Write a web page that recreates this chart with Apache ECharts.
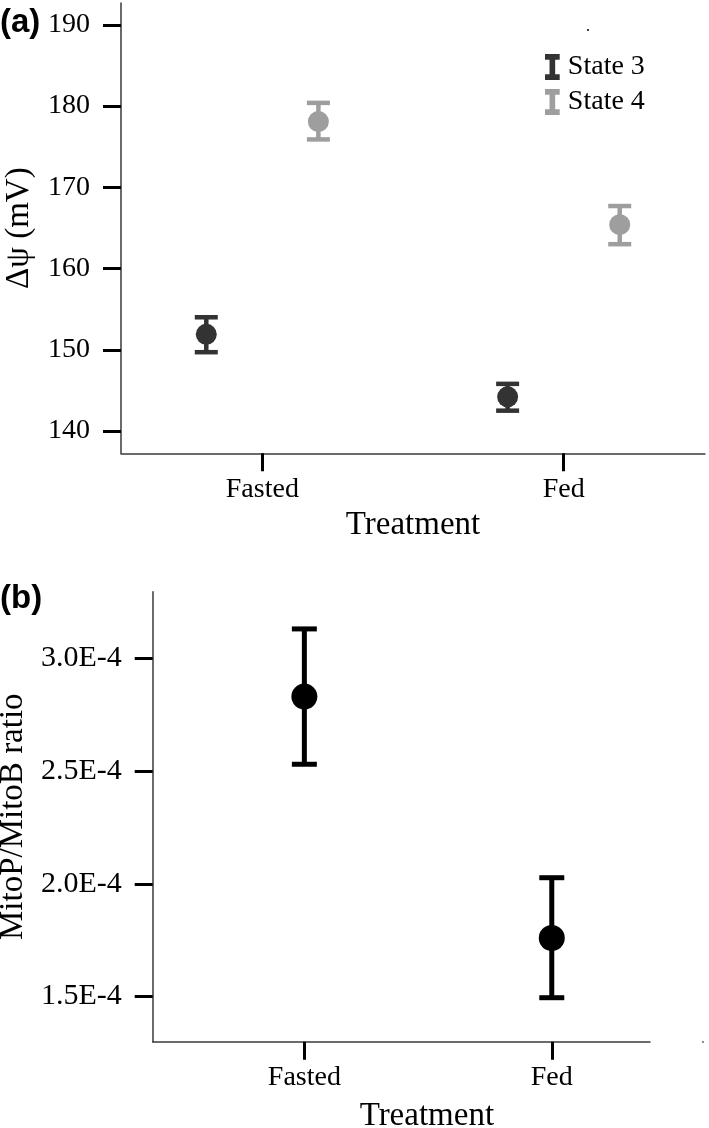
<!DOCTYPE html>
<html>
<head>
<meta charset="utf-8">
<script src="https://cdn.jsdelivr.net/npm/echarts@6/dist/echarts.min.js"></script>
<style>
  html, body { margin: 0; padding: 0; background: #fff; }
  #chart { width: 709px; height: 1128px; }
</style>
</head>
<body>
<div id="chart"></div>
<script>
// data
const categories = ["Fasted", "Fed"];
const state3Mean = [151.9, 144.2];
const state3Low = [149.7, 142.5];
const state3High = [154.0, 145.8];
const state4Mean = [178.1, 165.4];
const state4Low = [175.9, 163.0];
const state4High = [180.4, 167.7];
const ratioMean = [2.83e-4, 1.76e-4];
const ratioLow = [2.53e-4, 1.495e-4];
const ratioHigh = [3.13e-4, 2.027e-4];
const psiTicks = [140, 150, 160, 170, 180, 190];
const ratioTicks = [1.5e-4, 2.0e-4, 2.5e-4, 3.0e-4];

const serif = "Liberation Serif";
const dark = "#333333";
const grey = "#9e9e9e";
const dodge = 0.186;
const ibeam = "path://M0,0H13V5H9V18H13V23H0V18H4V5H0Z";

// rows for the error bar series: [x, low, high]
function barRows(low, high, shift) {
  return categories.map((c, i) => [i + shift, low[i], high[i]]);
}
function pointRows(mean, shift) {
  return categories.map((c, i) => [i + shift, mean[i]]);
}

function errorBar(capHalf, width) {
  return function (params, api) {
    const x = api.value(0);
    const lo = api.coord([x, api.value(1)]);
    const hi = api.coord([x, api.value(2)]);
    const style = { stroke: api.visual("color"), lineWidth: width };
    return {
      type: "group",
      children: [
        { type: "line", shape: { x1: lo[0], y1: lo[1], x2: hi[0], y2: hi[1] }, style: style },
        { type: "line", shape: { x1: lo[0] - capHalf, y1: lo[1], x2: lo[0] + capHalf, y2: lo[1] }, style: style },
        { type: "line", shape: { x1: hi[0] - capHalf, y1: hi[1], x2: hi[0] + capHalf, y2: hi[1] }, style: style },
      ],
    };
  };
}

function xAxisFor(gridIndex, min, max, nameGap, namePad) {
  return {
    type: "value",
    gridIndex: gridIndex,
    min: min,
    max: max,
    name: "Treatment",
    nameLocation: "middle",
    nameGap: nameGap,
    nameTextStyle: { fontFamily: serif, fontSize: 33, color: "#000", padding: namePad },
    splitLine: { show: false },
    axisLine: { onZero: false, lineStyle: { color: "#3a3a3a", width: 1.5 } },
    axisTick: { customValues: [0, 1], length: 18, lineStyle: { color: "#000", width: 3 } },
    axisLabel: {
      customValues: [0, 1],
      formatter: (v) => categories[Math.round(v)],
      margin: 22,
      fontFamily: serif,
      fontSize: 28,
      color: "#000",
    },
  };
}

const chart = echarts.init(document.getElementById("chart"));
chart.setOption({
  animation: false,
  backgroundColor: "#fff",
  grid: [
    { left: 121, top: 3, right: 4, bottom: 674.7, outerBoundsMode: "none", containLabel: false },
    { left: 152.7, top: 591.7, right: 59, bottom: 86.3, outerBoundsMode: "none", containLabel: false },
  ],
  legend: {
    data: [
      { name: "State 3", icon: ibeam },
      { name: "State 4", icon: ibeam },
    ],
    orient: "vertical",
    left: 540,
    top: 48,
    itemWidth: 15,
    itemHeight: 26,
    itemGap: 7,
    selectedMode: false,
    textStyle: { fontFamily: serif, fontSize: 28, color: "#000", padding: [0, 0, 0, 3] },
  },
  xAxis: [
    xAxisFor(0, -0.469, 1.469, 56, [0, 0, 0, 0]),
    xAxisFor(1, -0.613, 1.397, 58, [0, 0, 0, 51]),
  ],
  yAxis: [
    {
      type: "value",
      gridIndex: 0,
      min: 137.25,
      max: 192.7,
      name: "Δψ (mV)",
      nameLocation: "middle",
      nameGap: 85,
      nameTextStyle: { fontFamily: serif, fontSize: 33, color: "#000" },
      splitLine: { show: false },
      axisLine: { show: true, onZero: false, lineStyle: { color: "#3a3a3a", width: 1.5 } },
      axisTick: { customValues: psiTicks, length: 18, lineStyle: { color: "#000", width: 3 } },
      axisLabel: { customValues: psiTicks, margin: 31, fontFamily: serif, fontSize: 28, color: "#000" },
    },
    {
      type: "value",
      gridIndex: 1,
      min: 1.3e-4,
      max: 3.295e-4,
      name: "MitoP/MitoB ratio",
      nameLocation: "middle",
      nameGap: 123,
      nameTextStyle: { fontFamily: serif, fontSize: 33, color: "#000" },
      splitLine: { show: false },
      axisLine: { show: true, onZero: false, lineStyle: { color: "#3a3a3a", width: 1.5 } },
      axisTick: { customValues: ratioTicks, length: 18, lineStyle: { color: "#000", width: 3 } },
      axisLabel: {
        customValues: ratioTicks,
        margin: 31,
        formatter: (v) => (v * 1e4).toFixed(1) + "E-4",
        fontFamily: serif,
        fontSize: 30,
        color: "#000",
      },
    },
  ],
  series: [
    {
      name: "State 3",
      type: "custom",
      xAxisIndex: 0,
      yAxisIndex: 0,
      itemStyle: { color: dark },
      renderItem: errorBar(11.5, 4.5),
      data: barRows(state3Low, state3High, -dodge),
    },
    {
      name: "State 4",
      type: "custom",
      xAxisIndex: 0,
      yAxisIndex: 0,
      itemStyle: { color: grey },
      renderItem: errorBar(11.5, 4.5),
      data: barRows(state4Low, state4High, dodge),
    },
    {
      name: "State 3",
      type: "scatter",
      xAxisIndex: 0,
      yAxisIndex: 0,
      symbolSize: 21,
      itemStyle: { color: dark, opacity: 1 },
      data: pointRows(state3Mean, -dodge),
    },
    {
      name: "State 4",
      type: "scatter",
      xAxisIndex: 0,
      yAxisIndex: 0,
      symbolSize: 21,
      itemStyle: { color: grey, opacity: 1 },
      data: pointRows(state4Mean, dodge),
    },
    {
      name: "ratio",
      type: "custom",
      xAxisIndex: 1,
      yAxisIndex: 1,
      itemStyle: { color: "#000" },
      renderItem: errorBar(12.5, 5),
      data: barRows(ratioLow, ratioHigh, 0),
    },
    {
      name: "ratio",
      type: "scatter",
      xAxisIndex: 1,
      yAxisIndex: 1,
      symbolSize: 26,
      itemStyle: { color: "#000", opacity: 1 },
      data: pointRows(ratioMean, 0),
    },
  ],
  graphic: [
    { type: "text", left: 0, top: 6, style: { text: "(a)", font: 'bold 33px "Liberation Sans"', fill: "#000" } },
    { type: "text", left: 0, top: 582, style: { text: "(b)", font: 'bold 33px "Liberation Sans"', fill: "#000" } },
    { type: "circle", shape: { cx: 588, cy: 30, r: 1 }, style: { fill: "#000" } },
    { type: "circle", shape: { cx: 703, cy: 1042, r: 0.8 }, style: { fill: "#000" } },
  ],
});
</script>
</body>
</html>
